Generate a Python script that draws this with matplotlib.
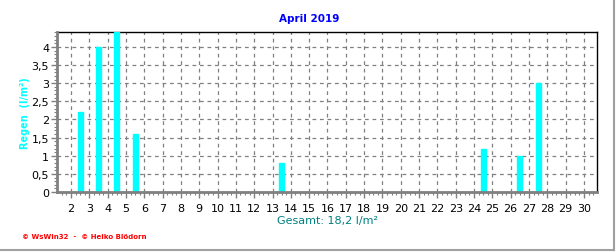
import matplotlib
matplotlib.use("Agg")
import matplotlib.pyplot as plt
from matplotlib.ticker import MultipleLocator

# daily rain, April 2019 (days 1..30)
days = list(range(1, 31))
rain = [0, 2.2, 4.0, 4.4, 1.6, 0, 0, 0, 0, 0,
        0, 0, 0.8, 0, 0, 0, 0, 0, 0, 0,
        0, 0, 0, 1.2, 0, 1.0, 3.0, 0, 0, 0]
tick_days = list(range(2, 31))
title = "April 2019"
total_label = "Gesamt: 18,2 l/m²"
y_label = "Regen  (l/m²)"
footer = "\u00a9 WsWin32  -  \u00a9 Heiko Blödorn"

fig = plt.figure(figsize=(6.16, 2.53), dpi=100)
ax = fig.add_axes([0.0933, 0.237, 0.8764, 0.6324])

# bars sit between the day labels
xpos = [d + 0.5 for d in days]
ax.bar(xpos, rain, width=0.27, color="#00ffff", edgecolor="#00ffff",
       linewidth=1, zorder=3)

ax.set_xlim(1.26, 30.73)
ax.set_ylim(0, 4.41)
ax.set_xticks(tick_days)
ax.set_xticklabels([str(d) for d in tick_days])
ax.xaxis.set_minor_locator(MultipleLocator(0.25))
ax.set_yticks([0, 0.5, 1, 1.5, 2, 2.5, 3, 3.5, 4])
ax.set_yticklabels(["0", "0,5", "1", "1,5", "2", "2,5", "3", "3,5", "4"])
ax.yaxis.set_minor_locator(MultipleLocator(0.1))

ax.tick_params(axis="both", which="major", labelsize=8, color="#808080",
               length=4, width=1, pad=2)
ax.tick_params(axis="both", which="minor", color="#808080", length=2.5, width=0.8)
ax.tick_params(axis="x", pad=4)

ax.grid(True, which="major", color="#808080", linestyle=(0, (3, 3)),
        linewidth=0.9, zorder=0)

for side in ["top", "right"]:
    ax.spines[side].set_color("black")
    ax.spines[side].set_linewidth(1)
for side in ["left", "bottom"]:
    ax.spines[side].set_color("#808080")
    ax.spines[side].set_linewidth(2)
    ax.spines[side].set_zorder(4)

fig.text(0.502, 0.925, title, color="#0000ff", fontsize=7.5, fontweight="bold",
         ha="center", va="center")
ax.set_xlabel(total_label, color="#008080", fontsize=8, labelpad=1)
ax.set_ylabel(y_label, color="#00ffff", fontsize=7, fontweight="bold", labelpad=1)

fig.text(0.036, 0.055, footer, color="#ff0000", fontsize=5, fontweight="bold")

# grey frame on the right and bottom of the picture
fig.add_artist(plt.Line2D([0, 0.9975], [0.006, 0.006], color="#a0a0a0", lw=1.5))
fig.add_artist(plt.Line2D([0.9975, 0.9975], [0.006, 1], color="#a0a0a0", lw=1.5))

fig.savefig("out.png", dpi=100)
